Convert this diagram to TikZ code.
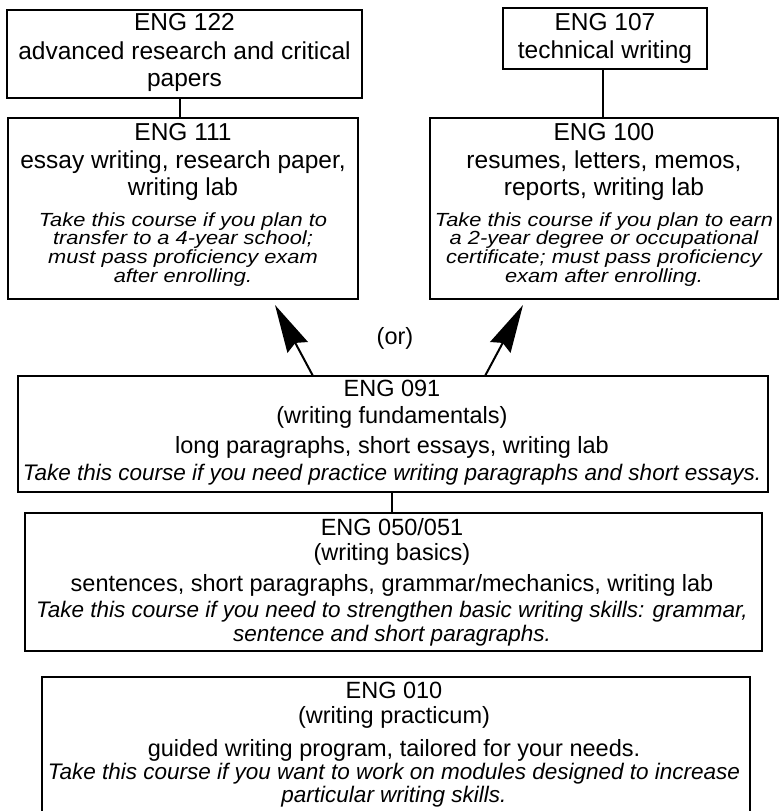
\documentclass[tikz,border=0pt]{standalone}
\usepackage{fontspec}
\setmainfont{Liberation Sans}
\newfontfamily\topitfont{Liberation Sans}[FakeStretch=1.15]
\usetikzlibrary{arrows.meta}
\begin{document}
\begin{tikzpicture}[x=1pt,y=-1pt,
  box/.style={draw, line width=1.6pt, inner sep=0pt, rectangle},
  rtop/.style={font=\fontsize{24.5}{27}\selectfont, anchor=base, inner sep=0pt},
  itop/.style={font=\topitfont\itshape\fontsize{19}{19}\selectfont, anchor=base, inner sep=0pt},
  rlow/.style={font=\fontsize{23.5}{26}\selectfont, anchor=base, inner sep=0pt},
  ilow/.style={font=\itshape\fontsize{22.5}{24}\selectfont, anchor=base, inner sep=0pt},
  link/.style={line width=1.8pt},
  bigarrow/.style={line width=2pt, -{Stealth[length=48pt,width=23pt,inset=5pt]}}
]
\useasboundingbox (0,0) rectangle (780,811);

% ENG 122
\node[box, minimum width=355pt, minimum height=88pt] (b122) at (184.5,54) {};
\node[rtop] (t122a) at (184.5,30) {ENG 122};
\node[rtop] (t122b) at (184.5,59) {advanced research and critical};
\node[rtop] (t122c) at (184.5,86) {papers};

% ENG 111
\node[box, minimum width=350pt, minimum height=181pt] (b111) at (183,208.5) {};
\node[rtop] (t111a) at (183,140) {ENG 111};
\node[rtop] (t111b) at (183,168) {essay writing, research paper,};
\node[rtop] (t111c) at (183,195) {writing lab};
\node[itop] (t111d) at (183,226) {Take this course if you plan to};
\node[itop] (t111e) at (183,244) {transfer to a 4-year school;};
\node[itop] (t111f) at (183,263) {must pass proficiency exam};
\node[itop] (t111g) at (183,282) {after enrolling.};

% ENG 107
\node[box, minimum width=204pt, minimum height=61pt] (b107) at (605,38.5) {};
\node[rtop] (t107a) at (605,30) {ENG 107};
\node[rtop] (t107b) at (605,58) {technical writing};

% ENG 100
\node[box, minimum width=348pt, minimum height=181pt] (b100) at (604,208.5) {};
\node[rtop] (t100a) at (604,140) {ENG 100};
\node[rtop] (t100b) at (604,168) {resumes, letters, memos,};
\node[rtop] (t100c) at (604,195) {reports, writing lab};
\node[itop] (t100d) at (604,226) {Take this course if you plan to earn};
\node[itop] (t100e) at (604,244) {a 2-year degree or occupational};
\node[itop] (t100f) at (604,263) {certificate; must pass proficiency};
\node[itop] (t100g) at (604,282) {exam after enrolling.};

% connectors top
\draw[link] (b122.south -| 180,0) -- (b111.north -| 180,0);
\draw[link] (b107.south -| 603,0) -- (b100.north -| 603,0);

% (or)
\node[rlow] (or) at (395,344) {(or)};

% ENG 091
\node[box, minimum width=750pt, minimum height=116pt] (b091) at (393,434) {};
\node[rlow] (t091a) at (392,396) {ENG 091};
\node[rlow] (t091b) at (392,423) {(writing fundamentals)};
\node[rlow] (t091c) at (392,453) {long paragraphs, short essays, writing lab};
\node[ilow] (t091d) at (392,480) {Take this course if you need practice writing paragraphs and short essays.};

% arrows
\coordinate (a1s) at (313,376);
\coordinate (a1e) at (275,305);
\coordinate (a2s) at (485,376);
\coordinate (a2e) at (523,305);
\draw[bigarrow] (a1s) -- (a1e);
\draw[bigarrow] (a2s) -- (a2e);

% ENG 050/051
\node[box, minimum width=737pt, minimum height=138pt] (b050) at (393.5,582) {};
\node[rlow] (t050a) at (392,535) {ENG 050/051};
\node[rlow] (t050b) at (392,560) {(writing basics)};
\node[rlow] (t050c) at (392,591) {sentences, short paragraphs, grammar/mechanics, writing lab};
\node[ilow] (t050d) at (392,617) {Take this course if you need to strengthen basic writing skills: grammar,};
\node[ilow] (t050e) at (392,641) {sentence and short paragraphs.};

\draw[link] (b091.south -| 392,0) -- (b050.north -| 392,0);

% ENG 010
\node[box, minimum width=708pt, minimum height=140pt] (b010) at (396,747) {};
\node[rlow] (t010a) at (394,698) {ENG 010};
\node[rlow] (t010b) at (394,723) {(writing practicum)};
\node[rlow] (t010c) at (394,756) {guided writing program, tailored for your needs.};
\node[ilow] (t010d) at (394,779) {Take this course if you want to work on modules designed to increase};
\node[ilow] (t010e) at (394,802) {particular writing skills.};
\end{tikzpicture}
\end{document}
